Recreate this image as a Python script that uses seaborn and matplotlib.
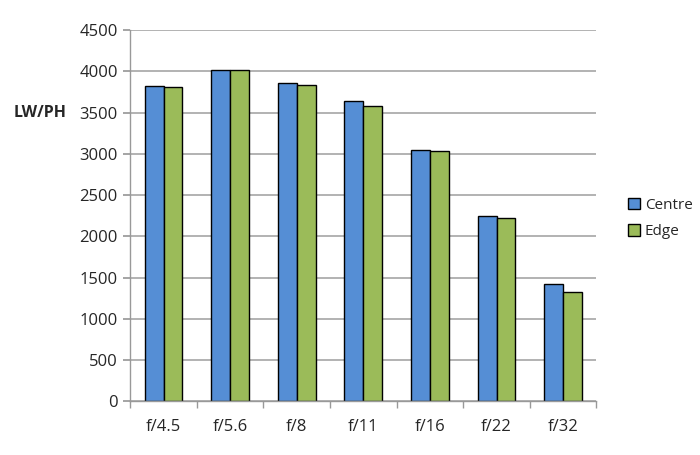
import numpy as np
import pandas as pd
import matplotlib
matplotlib.use("Agg")
import matplotlib.pyplot as plt
import seaborn as sns
from matplotlib.ticker import FixedLocator

apertures = ["f/4.5", "f/5.6", "f/8", "f/11", "f/16", "f/22", "f/32"]
centre = [3827, 4012, 3855, 3642, 3040, 2247, 1419]
edge = [3811, 4017, 3839, 3585, 3028, 2223, 1323]
series = ["Centre", "Edge"]
colors = ["#558ED5", "#9BBB59"]
yticks = [0, 500, 1000, 1500, 2000, 2500, 3000, 3500, 4000, 4500]

df = pd.DataFrame({
    "aperture": apertures * 2,
    "value": centre + edge,
    "series": [series[0]] * len(apertures) + [series[1]] * len(apertures),
})

sns.set_theme(style="white")
plt.rcParams["font.family"] = ["Open Sans", "DejaVu Sans"]

fig = plt.figure(figsize=(7, 4.55), dpi=100)
ax = fig.add_axes([0.186, 0.118, 0.666, 0.816])

sns.barplot(data=df, x="aperture", y="value", hue="series", order=apertures,
            hue_order=series, palette=colors, width=0.57, edgecolor="black",
            linewidth=1.0, saturation=1, ax=ax, legend=True)

ax.set_ylim(0, 4500)
ax.set_xlim(-0.5, len(apertures) - 0.5)
ax.set_yticks(yticks)
ax.set_yticklabels([str(v) for v in yticks], fontsize=12)
ax.yaxis.grid(True, color="#A6A6A6", linewidth=1.2)
ax.set_axisbelow(True)
ax.set_xlabel("")
ax.set_ylabel("")
for s in ["top", "right"]:
    ax.spines[s].set_visible(False)
for s in ["left", "bottom"]:
    ax.spines[s].set_color("#999999")
    ax.spines[s].set_linewidth(1.0)

ax.tick_params(axis="y", which="major", length=5, color="#999999", direction="out", left=True, pad=4)
ax.tick_params(axis="x", which="major", length=0, labelsize=12, pad=13)
ax.xaxis.set_minor_locator(FixedLocator(np.arange(-0.5, len(apertures), 1.0)))
ax.tick_params(axis="x", which="minor", length=5, color="#999999", direction="out", bottom=True)

leg = ax.legend(loc="center left", bbox_to_anchor=(0.893, 0.52), bbox_transform=fig.transFigure,
                frameon=False, fontsize=11, handlelength=0.8, handleheight=0.8,
                handletextpad=0.3, labelspacing=0.75, borderpad=0.2, borderaxespad=0)

fig.text(0.019, 0.752, "LW/PH", fontsize=11.5, fontweight="bold", va="center", ha="left")

fig.savefig("out.png", dpi=100)
